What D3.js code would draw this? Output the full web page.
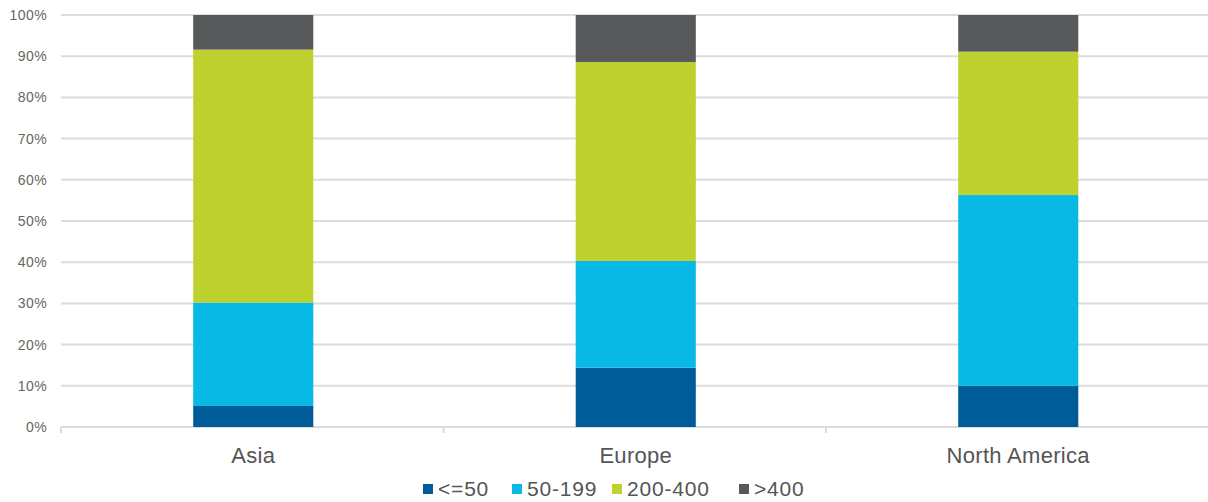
<!DOCTYPE html>
<html>
<head>
<meta charset="utf-8">
<script src="https://cdn.jsdelivr.net/npm/d3@7"></script>
<style>
  body { margin: 0; background: #fff; }
  text { font-family: "Liberation Sans", Arial, sans-serif; }
</style>
</head>
<body>
<div id="chart"></div>
<script>
// stacked share by region
var regions = ["Asia", "Europe", "North America"];
var keys = ["<=50", "50-199", "200-400", ">400"];
var le50 = [5.1, 14.4, 10.0];
var r50_199 = [25.1, 25.9, 46.3];
var r200_400 = [61.4, 48.3, 34.8];
var gt400 = [8.4, 11.4, 8.9];
var yTicks = [0, 10, 20, 30, 40, 50, 60, 70, 80, 90, 100];
var colors = ["#005b99", "#08b9e6", "#bed12f", "#58595b"];

var w = 1208, h = 502;
var m = {top: 15, right: 0, bottom: 75, left: 61};

var rows = regions.map(function(r, i) {
  return {region: r, "<=50": le50[i], "50-199": r50_199[i], "200-400": r200_400[i], ">400": gt400[i]};
});
var series = d3.stack().keys(keys)(rows);

var svg = d3.select("#chart").append("svg")
  .attr("width", w).attr("height", h);

var x = d3.scaleBand().domain(regions)
  .range([m.left + 1, w + 1.5]).paddingInner(0.686).paddingOuter(0.343);
var y = d3.scaleLinear().domain([0, 100]).range([427, m.top]);

// gridlines
svg.append("g").selectAll("line").data(yTicks).enter().append("line")
  .attr("x1", m.left).attr("x2", w)
  .attr("y1", function(d) { return y(d); }).attr("y2", function(d) { return y(d); })
  .attr("stroke", "#dcdcdc").attr("stroke-width", 2);

// y labels
svg.append("g").selectAll("text").data(yTicks).enter().append("text")
  .attr("x", 47).attr("y", function(d) { return y(d); })
  .attr("dy", "0.35em").attr("text-anchor", "end")
  .attr("font-size", 14).attr("letter-spacing", 0.4).attr("fill", "#666")
  .text(function(d) { return d + "%"; });

// category boundary ticks
var step = x.step();
svg.append("g").selectAll("line").data(d3.range(regions.length)).enter().append("line")
  .attr("x1", function(i) { return m.left + i * step; })
  .attr("x2", function(i) { return m.left + i * step; })
  .attr("y1", y(0)).attr("y2", y(0) + 6)
  .attr("stroke", "#dcdcdc").attr("stroke-width", 2);

// bars
svg.append("g").selectAll("g").data(series).enter().append("g")
  .attr("fill", function(d, i) { return colors[i]; })
  .selectAll("rect").data(function(d) { return d; }).enter().append("rect")
  .attr("x", function(d) { return x(d.data.region); })
  .attr("width", x.bandwidth())
  .attr("y", function(d) { return y(d[1]); })
  .attr("height", function(d) { return y(d[0]) - y(d[1]); });

// x labels
svg.append("g").selectAll("text").data(regions).enter().append("text")
  .attr("x", function(d) { return x(d) + x.bandwidth() / 2; })
  .attr("y", 463).attr("text-anchor", "middle")
  .attr("font-size", 22).attr("letter-spacing", 0.3).attr("fill", "#555")
  .text(function(d) { return d; });

// legend
var legX = [423, 512, 612, 739];
var leg = svg.append("g").selectAll("g").data(keys).enter().append("g")
  .attr("transform", function(d, i) { return "translate(" + legX[i] + ",488)"; });
leg.append("rect").attr("x", 0).attr("y", -4).attr("width", 10).attr("height", 10)
  .attr("fill", function(d, i) { return colors[i]; });
leg.append("text").attr("x", 15).attr("y", 1).attr("dy", "0.35em")
  .attr("font-size", 21).attr("letter-spacing", 0.8).attr("fill", "#555")
  .text(function(d) { return d; });
</script>
</body>
</html>
